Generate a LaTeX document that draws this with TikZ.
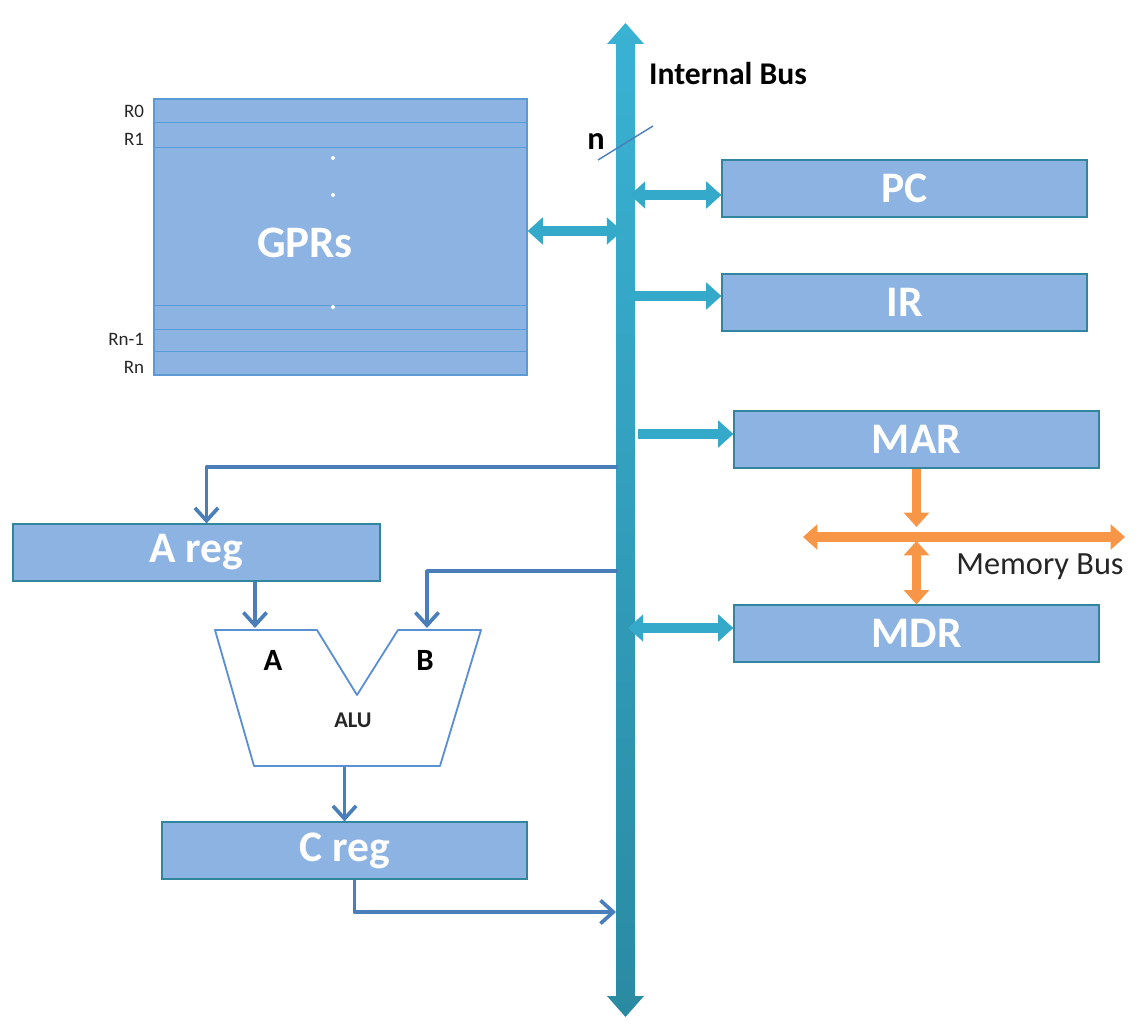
\documentclass[tikz,border=0pt]{standalone}
\usepackage{fontspec}
\setmainfont{Carlito}
\usetikzlibrary{arrows.meta, positioning}

\definecolor{boxfill}{HTML}{8DB3E2}
\definecolor{boxline}{HTML}{31859C}
\definecolor{gprline}{HTML}{5B9BD5}
\definecolor{wireblue}{HTML}{4A7EBB}
\definecolor{alublue}{HTML}{5B8FD3}
\definecolor{buslight}{HTML}{3AB2D4}
\definecolor{busdark}{HTML}{2A8AA2}
\definecolor{arrowcyan}{HTML}{35A9C9}
\definecolor{memorange}{HTML}{F79646}
\definecolor{labelgrey}{HTML}{262626}

\tikzset{
  regbox/.style={draw=boxline, fill=boxfill, line width=0.8pt, inner sep=0pt,
    minimum width=9.125cm, minimum height=1.425cm, text=white,
    font=\fontsize{31}{31}\selectfont\bfseries},
  wire/.style={wireblue, line width=2.6pt, line join=round,
    -{Straight Barb[length=0.32cm, width=0.58cm]}},
  cyanarrow/.style={arrowcyan, line width=7pt,
    -{Triangle[length=0.38cm, width=0.66cm]}},
  cyanboth/.style={arrowcyan, line width=7pt,
    {Triangle[length=0.38cm, width=0.66cm]}-{Triangle[length=0.38cm, width=0.66cm]}},
  orangearrow/.style={memorange, line width=7pt,
    -{Triangle[length=0.36cm, width=0.62cm]}},
  orangeboth/.style={memorange, line width=7pt,
    {Triangle[length=0.36cm, width=0.62cm]}-{Triangle[length=0.36cm, width=0.62cm]}},
  reglabel/.style={anchor=east, text=labelgrey, font=\fontsize{13.5}{13.5}\selectfont},
}

\begin{document}
\begin{tikzpicture}[x=0.025cm, y=-0.025cm]
\useasboundingbox (0,0) rectangle (1138,1030);

% internal bus
\shade[top color=buslight, bottom color=busdark]
  (616,44) -- (607,44) -- (625.5,23) -- (644,44) -- (635,44) -- (635,996)
  -- (644,996) -- (625.5,1017) -- (607,996) -- (616,996) -- cycle;
\node[text=black, font=\fontsize{22.5}{22.5}\selectfont\bfseries] (busname) at (728,74) {Internal Bus};
\node[text=black, font=\fontsize{23}{23}\selectfont\bfseries] (nlabel) at (596,142) {n};
\draw[wireblue, line width=1pt] (598,160) -- (653,126);

\coordinate (busG) at (622,231);
\coordinate (busPC) at (630,195);
\coordinate (busIR) at (630,296);
\coordinate (busMAR) at (638,434);
\coordinate (busMDR) at (628,628);
\coordinate (busA) at (618,467);
\coordinate (busB) at (618,571);
\coordinate (busC) at (616,912);

% register file
\node[regbox, draw=gprline, minimum width=9.325cm, minimum height=6.9cm] (gprs) at (340.5,237) {};
\draw[gprline, line width=0.7pt] (154,122) -- (527,122);
\draw[gprline, line width=0.7pt] (154,147) -- (527,147);
\draw[gprline, line width=0.7pt] (154,305) -- (527,305);
\draw[gprline, line width=0.7pt] (154,329) -- (527,329);
\draw[gprline, line width=0.7pt] (154,351) -- (527,351);
\node[text=white, font=\fontsize{32}{32}\selectfont\bfseries] (gprname) at (305,243) {GPRs};
\fill[white] (333,158) circle (0.05cm);
\fill[white] (333,195) circle (0.05cm);
\fill[white] (333,307) circle (0.05cm);
\node[reglabel] (r0) at (149,111) {R0};
\node[reglabel] (r1) at (149,139) {R1};
\node[reglabel] (rn1) at (149,339) {Rn-1};
\node[reglabel] (rn) at (149,367) {Rn};

% registers on the bus
\node[regbox] (pc) at (904.5,188.5) {PC};
\node[regbox] (ir) at (904.5,302.5) {IR};
\node[regbox] (mar) at (916.5,439.5) {MAR};
\node[regbox] (mdr) at (916.5,633.5) {MDR};
\node[regbox, minimum width=9.175cm] (areg) at (196.5,552.5) {A reg};
\node[regbox] (creg) at (344.5,850.5) {C reg};

\draw[cyanboth] (gprs.east |- busG) -- (busG);
\draw[cyanboth] (busPC) -- (pc.west |- busPC);
\draw[cyanarrow] (busIR) -- (ir.west |- busIR);
\draw[cyanarrow] (busMAR) -- (mar.west |- busMAR);
\draw[cyanboth] (busMDR) -- (mdr.west |- busMDR);

% memory bus
\coordinate (memL) at (803,537);
\coordinate (memR) at (1125,537);
\coordinate (memTop) at (916.5,527);
\coordinate (memLow) at (916.5,541);
\draw[orangeboth] (memL) -- (memR);
\draw[orangearrow] (mar.south) -- (memTop);
\draw[orangeboth] (memLow) -- (mdr.north);
\node[text=labelgrey, font=\fontsize{23}{23}\selectfont] (memname) at (1040,567) {Memory Bus};

% ALU
\draw[alublue, line width=1.3pt, line join=round]
  (215,630) -- (317,630) -- (357,695) -- (398,630) -- (481,630) -- (440,766) -- (254,766) -- cycle;
\coordinate (aluA) at (255,628);
\coordinate (aluB) at (427,628);
\coordinate (aluOut) at (344.5,767);
\node[text=black, font=\fontsize{22}{22}\selectfont\bfseries] (ina) at (273,660) {A};
\node[text=black, font=\fontsize{22}{22}\selectfont\bfseries] (inb) at (425,660) {B};
\node[text=labelgrey, font=\fontsize{16}{16}\selectfont\bfseries] (aluname) at (353,720) {ALU};

\draw[wire] (busA) -| ([xshift=0.25cm]areg.north);
\draw[wire] (areg.south -| aluA) -- (aluA);
\draw[wire] (busB) -| (aluB);
\draw[wire] (aluOut) -- (creg.north);
\draw[wire] ([xshift=0.25cm]creg.south) |- (busC);

\end{tikzpicture}
\end{document}
